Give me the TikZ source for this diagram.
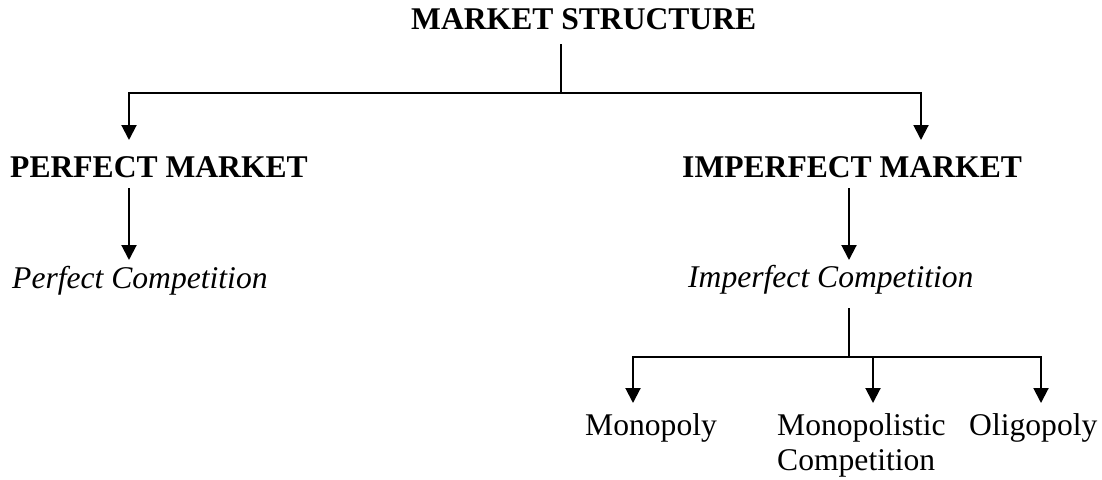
\documentclass[tikz,border=0pt]{standalone}
\usepackage{fontspec}
\setmainfont{Liberation Serif}
\usetikzlibrary{arrows.meta}
\begin{document}
\begin{tikzpicture}[x=1pt,y=-1pt,
  lbl/.style={inner sep=0pt,anchor=base west,font=\fontsize{31.6}{35}\selectfont},
  hd/.style={lbl,font=\fontsize{31.6}{35}\selectfont\bfseries},
  it/.style={lbl,font=\fontsize{31.6}{35}\selectfont\itshape},
  ln/.style={line width=2pt},
  arr/.style={ln,-{Triangle[width=15pt,length=15pt]}}]
\useasboundingbox (0,0) rectangle (1102,479);
\node[hd] (ms) at (411,29) {MARKET STRUCTURE};
\node[hd] (pm) at (10,177) {PERFECT MARKET};
\node[hd] (im) at (682,177) {IMPERFECT MARKET};
\node[it] (pc) at (12,288) {Perfect Competition};
\node[it] (ic) at (688,287) {Imperfect Competition};
\node[lbl] (mono) at (585,435) {Monopoly};
\node[lbl] (mc) at (777,435) {\begin{tabular}[t]{@{}l@{}}Monopolistic\\Competition\end{tabular}};
\node[lbl] (olig) at (969,435) {Oligopoly};
% coordinates
\coordinate (t0) at (561,44);
\coordinate (j0) at (561,93);
\coordinate (pmTip) at (129,140);
\coordinate (imTip) at (921,140);
\coordinate (pmS) at (129,188);
\coordinate (pcTip) at (129,260);
\coordinate (imS) at (849,188);
\coordinate (icTip) at (849,260);
\coordinate (icS) at (849,308);
\coordinate (j1) at (849,357);
\coordinate (monoTip) at (633,403);
\coordinate (mcTip) at (873,403);
\coordinate (oligTip) at (1041,403);
% connectors
\draw[ln] (t0) -- (j0);
\draw[arr] (j0) -| (pmTip);
\draw[arr] (j0) -| (imTip);
\draw[arr] (pmS) -- (pcTip);
\draw[arr] (imS) -- (icTip);
\draw[ln] (icS) -- (j1);
\draw[arr] (j1) -| (monoTip);
\draw[arr] (j1) -| (mcTip);
\draw[arr] (j1) -| (oligTip);
\end{tikzpicture}
\end{document}
